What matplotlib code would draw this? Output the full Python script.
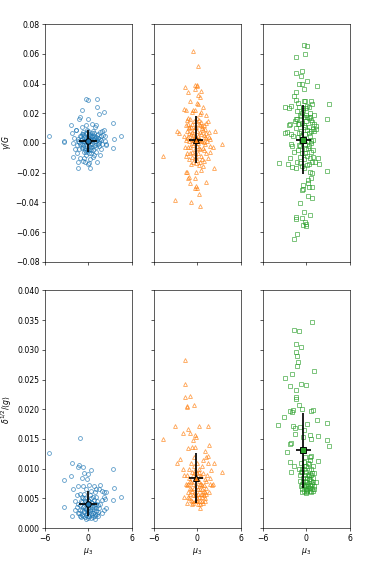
import matplotlib
matplotlib.use('Agg')
import matplotlib.pyplot as plt
import numpy as np

# (mu3, gamma/G) pairs, top row
blue_top = [
    (-5.36, 0.0049), (-3.33, 0.0010), (-3.3, 0.0006), (-2.34, 0.0122), (-2.3, 0.0067),
    (-2.16, 0.0000), (-2.07, -0.0096), (-1.76, 0.0084), (-1.7, 0.0088), (-1.6, -0.0067),
    (-1.4, -0.0129), (-1.4, -0.0171), (-1.3, 0.0160), (-1.2, 0.0173), (-0.9, 0.0224),
    (-0.86, 0.0110), (-0.77, -0.0118), (-0.63, -0.0098), (-0.3, 0.0296), (-0.05, 0.0290),
    (-0.05, 0.0160), (0.05, -0.0133), (-0.09, -0.0144), (0.18, -0.0167), (0.18, -0.0110),
    (0.8, -0.0080), (1.13, 0.0293), (1.17, 0.0244), (1.08, 0.0122), (1.5, 0.0196),
    (2.1, 0.0211), (1.58, -0.0080), (1.13, -0.0129), (1.8, -0.0038), (2.16, 0.0089),
    (2.34, 0.0044), (2.48, -0.0007), (3.42, 0.0133), (3.51, 0.0027), (3.33, -0.0031),
    (4.55, 0.0049), (2.0, 0.0056), (1.6, 0.0072), (1.85, 0.0078), (2.3, 0.0010),
    (2.4, -0.0015), (-1.2, -0.0100), (-0.5, -0.0125), (0.6, -0.0095), (-2.0, 0.0035),
    (-1.9, -0.0040), (0.9, 0.0105), (0.5, 0.0125), (-0.4, 0.0120),
    (-1.4, 0.003), (-1.2, 0.005), (-1.1, -0.001), (-1.0, 0.002), (-0.9, 0.006),
    (-0.8, -0.003), (-0.7, 0.001), (-0.6, 0.004), (-0.5, -0.005), (-0.4, 0.002),
    (-0.3, 0.007), (-0.2, -0.002), (-0.1, 0.004), (0.0, 0.000), (0.1, 0.006),
    (0.2, -0.004), (0.3, 0.002), (0.4, 0.005), (0.5, -0.001), (0.6, 0.003),
    (0.7, 0.007), (0.8, -0.002), (0.9, 0.001), (1.0, 0.004), (1.1, -0.003),
    (1.2, 0.002), (1.3, 0.006), (1.5, 0.000), (1.6, 0.003), (-1.3, -0.004),
    (-0.6, -0.006), (0.3, -0.007), (0.0, 0.008), (-0.2, 0.009), (0.4, -0.005),
    (-0.9, -0.001), (1.4, -0.002), (-0.3, -0.008), (0.6, 0.008), (-1.5, 0.001),
    (0.2, 0.003), (-0.5, 0.001), (0.8, 0.005), (-0.1, -0.005), (1.8, 0.002),
    (0.1, -0.002), (-0.7, 0.006), (1.0, -0.006),
    (-1.25, 0.0005), (-1.05, 0.0045), (-0.95, -0.0035), (-0.85, 0.0025), (-0.75, -0.0015),
    (-0.65, 0.0055), (-0.55, 0.0005), (-0.45, -0.0035), (-0.35, 0.0035), (-0.25, 0.0005),
    (-0.15, -0.0045), (-0.05, 0.0025), (0.05, 0.0045), (0.15, -0.0005), (0.25, 0.0055),
    (0.35, -0.0025), (0.45, 0.0015), (0.55, 0.0045), (0.65, -0.0045), (0.75, 0.0025),
    (0.85, 0.0035), (0.95, -0.0015), (1.05, 0.0015), (1.15, 0.0055), (1.25, -0.0005),
    (1.35, 0.0035), (1.45, 0.0015), (1.7, 0.0050), (1.9, -0.0010), (-1.6, -0.0015),
    (0.05, -0.0065), (-0.35, -0.0060), (0.5, 0.0070), (-0.8, 0.0075),
]

orange_top = [
    (-0.56, 0.0622), (0.14, 0.0515), (-1.76, 0.0375), (-1.3, 0.0342), (-0.3, 0.0390),
    (-0.1, 0.0385), (0.0, 0.0392), (-0.3, 0.0360), (0.5, 0.0353), (0.1, 0.0320),
    (0.3, 0.0310), (-1.0, 0.0285), (0.0, 0.0270), (0.1, 0.0265), (0.83, 0.0245),
    (-1.9, 0.0230), (-1.6, 0.0225), (-0.6, 0.0225), (-0.8, 0.0210), (-0.4, 0.0220),
    (0.5, 0.0210), (0.4, 0.0195), (1.16, 0.0189), (-1.5, 0.0155), (1.4, 0.0145),
    (1.2, 0.0135), (-1.6, 0.0120), (-1.2, 0.0110), (-2.8, 0.0080), (-2.5, 0.0070),
    (2.4, 0.0083), (1.57, 0.0076), (3.38, -0.0007), (1.7, -0.0020), (2.1, -0.0024),
    (1.7, -0.0060), (-4.72, -0.0088), (-1.6, -0.0088), (2.3, -0.0166), (-1.6, -0.0195),
    (-1.45, -0.0198), (-0.14, -0.0193), (0.8, -0.0155), (-1.2, -0.0230), (-1.3, -0.0238),
    (-0.37, -0.0238), (1.25, -0.0260), (-1.0, -0.0270), (-0.2, -0.0290), (-0.1, -0.0300),
    (-0.3, -0.0305), (0.23, -0.0344), (-3.1, -0.0382), (-0.88, -0.0400), (0.32, -0.0422),
    (1.6, 0.0040), (1.4, -0.0100), (-1.8, 0.0050), (-1.7, -0.0030), (0.9, -0.0120),
    (-0.9, -0.0140), (0.5, -0.0180), (1.8, 0.0030), (-1.3, 0.0170),
    (-1.5, 0.008), (-1.3, 0.004), (-1.2, 0.001), (-1.1, 0.010), (-1.0, -0.003),
    (-0.9, 0.006), (-0.8, 0.013), (-0.7, -0.006), (-0.6, 0.002), (-0.5, 0.009),
    (-0.4, -0.010), (-0.3, 0.005), (-0.2, 0.015), (-0.1, -0.002), (0.0, 0.008),
    (0.1, -0.007), (0.2, 0.003), (0.3, 0.012), (0.4, -0.004), (0.5, 0.006),
    (0.6, -0.011), (0.7, 0.001), (0.8, 0.009), (0.9, -0.005), (1.0, 0.004),
    (1.1, -0.001), (1.2, 0.007), (-1.4, -0.007), (-1.0, 0.016), (-0.6, -0.013),
    (0.3, -0.013), (0.0, 0.017), (-0.3, -0.004), (0.5, 0.014), (-0.8, 0.000),
    (0.1, 0.000), (-1.6, 0.002), (1.3, 0.001), (-0.4, 0.011), (0.7, 0.010),
    (-0.2, -0.009), (0.2, -0.015), (-1.1, -0.011), (0.9, 0.012), (-0.5, 0.003),
    (0.4, 0.002),
    (-1.45, 0.0035), (-1.35, -0.0025), (-1.25, 0.0125), (-1.15, 0.0065), (-1.05, -0.0065),
    (-0.95, 0.0025), (-0.85, 0.0105), (-0.75, -0.0095), (-0.65, 0.0055), (-0.55, -0.0015),
    (-0.45, 0.0145), (-0.35, -0.0065), (-0.25, 0.0015), (-0.15, 0.0105), (-0.05, -0.0115),
    (0.05, 0.0045), (0.15, 0.0125), (0.25, -0.0035), (0.35, 0.0075), (0.45, -0.0085),
    (0.55, 0.0015), (0.65, 0.0115), (0.75, -0.0035), (0.85, 0.0055), (0.95, 0.0005),
    (1.05, 0.0095), (1.15, -0.0065), (1.25, 0.0035), (-0.1, 0.0035), (0.2, 0.0155),
    (-0.7, 0.0075), (-0.2, -0.0135),
]

green_top = [
    (-0.28, 0.0660), (0.05, 0.0650), (-0.14, 0.0600), (-1.5, 0.0580), (-1.43, 0.0474),
    (-0.6, 0.0485), (-0.74, 0.0450), (0.05, 0.0418), (-0.97, 0.0400), (-0.64, 0.0398),
    (-0.37, 0.0360), (1.43, 0.0384), (-1.43, 0.0344), (-1.7, 0.0317), (-1.5, 0.0290),
    (-1.2, 0.0270), (-0.37, 0.0285), (-0.2, 0.0280), (0.7, 0.0280), (0.75, 0.0260),
    (3.13, 0.0263), (-2.9, 0.0240), (-2.4, 0.0235), (-2.1, 0.0248), (0.05, 0.0250),
    (0.4, 0.0245), (-0.97, 0.0240), (-0.5, 0.0232), (1.0, 0.0190), (2.8, 0.0164),
    (-1.5, 0.0162), (-1.6, 0.0150), (0.5, 0.0178), (0.6, 0.0155), (-2.2, 0.0125),
    (-2.35, 0.0118), (1.0, 0.0125), (1.3, 0.0115), (1.3, 0.0092), (1.1, 0.0083),
    (-2.9, 0.0065), (-2.7, 0.0074), (-2.1, 0.0058), (-1.9, 0.0050), (-2.1, -0.0007),
    (-2.0, -0.0020), (0.7, -0.0002), (0.35, -0.0018), (-2.2, -0.0103), (-1.75, -0.0058),
    (-3.8, -0.0137), (-2.6, -0.0141), (-2.0, -0.0160), (-1.4, -0.0171), (-1.3, -0.0126),
    (-0.87, -0.0137), (0.55, -0.0103), (0.97, -0.0092), (1.6, -0.0099), (1.15, -0.0128),
    (1.7, -0.0141), (2.9, -0.0187), (0.8, -0.0205), (0.65, -0.0239), (0.2, -0.0250),
    (0.23, -0.0268), (-0.5, -0.0282), (-0.64, -0.0317), (-0.41, -0.0312), (0.41, -0.0295),
    (0.74, -0.0295), (0.23, -0.0360), (0.74, -0.0369), (-0.83, -0.0402), (-0.28, -0.0465),
    (0.55, -0.0485), (-1.43, -0.0495), (-1.48, -0.0512), (-0.64, -0.0503), (-0.2, -0.0533),
    (-0.1, -0.0545), (-0.45, -0.0551), (0.0, -0.0557), (-1.24, -0.0610), (-1.75, -0.0645),
    (-1.4, 0.010), (-1.2, 0.004), (-1.0, 0.013), (-0.9, -0.002), (-0.8, 0.008),
    (-0.7, 0.018), (-0.6, -0.007), (-0.5, 0.003), (-0.4, 0.012), (-0.3, -0.011),
    (-0.2, 0.006), (-0.1, 0.015), (0.0, -0.004), (0.1, 0.009), (0.2, 0.001),
    (0.3, -0.014), (0.4, 0.011), (0.5, 0.005), (0.6, -0.006), (0.8, 0.014),
    (0.9, 0.002), (-1.1, -0.005), (-0.6, 0.020), (0.0, 0.019), (-0.4, -0.017),
    (0.1, -0.009), (-1.3, 0.016), (0.7, 0.008), (-0.2, -0.001), (-0.8, 0.001),
    (0.3, 0.017), (-1.0, 0.007),
    (-1.25, 0.0215), (-1.15, 0.0125), (-1.05, -0.0015), (-0.95, 0.0185), (-0.85, -0.0095),
    (-0.75, 0.0045), (-0.65, 0.0135), (-0.55, -0.0155), (-0.45, 0.0225), (-0.35, 0.0015),
    (-0.25, -0.0065), (-0.15, 0.0105), (-0.05, 0.0235), (0.05, -0.0145), (0.15, 0.0175),
    (0.25, -0.0035), (0.35, 0.0065), (0.45, -0.0195), (0.55, 0.0205), (0.65, 0.0015),
    (0.75, -0.0125), (0.85, 0.0095), (0.95, -0.0045), (-0.3, 0.0175),
]

# (mu3, delta^1/2/<g>) pairs, bottom row
blue_bot = [
    (-5.36, 0.0127), (-1.2, 0.0152), (-2.3, 0.0109), (-1.35, 0.0106), (-1.4, 0.0102),
    (-0.72, 0.0102), (0.3, 0.0097), (-0.1, 0.0091), (-0.6, 0.0092), (-0.9, 0.0085),
    (-2.4, 0.0088), (-3.4, 0.0081), (-0.13, 0.0083), (3.42, 0.0100), (3.47, 0.0067),
    (3.33, 0.0047), (4.5, 0.0053), (-3.33, 0.0035), (-2.2, 0.0021), (-2.07, 0.0066),
    (-1.44, 0.0070), (-0.72, 0.0071), (0.1, 0.0073), (0.77, 0.0070), (1.53, 0.0073),
    (1.5, 0.0065), (1.1, 0.0065), (1.9, 0.0062), (2.1, 0.0061), (2.48, 0.0060),
    (2.34, 0.0049), (1.9, 0.0047), (2.2, 0.0053), (2.4, 0.0033), (2.2, 0.0030),
    (1.9, 0.0025), (-1.6, 0.0055), (-1.8, 0.0045), (-1.9, 0.0030), (-1.5, 0.0025),
    (0.9, 0.0060), (0.4, 0.0062), (-0.3, 0.0065), (-1.1, 0.0058),
    (-1.4, 0.0040), (-1.2, 0.0030), (-1.0, 0.0045), (-0.9, 0.0022), (-0.8, 0.0035),
    (-0.7, 0.0050), (-0.6, 0.0028), (-0.5, 0.0018), (-0.4, 0.0042), (-0.3, 0.0032),
    (-0.2, 0.0025), (-0.1, 0.0048), (0.0, 0.0038), (0.1, 0.0020), (0.2, 0.0030),
    (0.3, 0.0044), (0.4, 0.0026), (0.5, 0.0036), (0.6, 0.0019), (0.7, 0.0048),
    (0.8, 0.0032), (0.9, 0.0024), (1.0, 0.0040), (1.1, 0.0029), (1.2, 0.0045),
    (1.3, 0.0021), (1.4, 0.0034), (-1.1, 0.0020), (-0.3, 0.0015), (0.2, 0.0055),
    (-0.6, 0.0058), (0.6, 0.0053), (1.6, 0.0040), (-1.6, 0.0035), (0.0, 0.0017),
    (-0.9, 0.0052), (0.9, 0.0016), (0.4, 0.0050), (-0.5, 0.0045), (1.1, 0.0052),
    (-1.25, 0.0025), (-1.15, 0.0038), (-1.05, 0.0018), (-0.95, 0.0030), (-0.85, 0.0044),
    (-0.75, 0.0020), (-0.65, 0.0037), (-0.55, 0.0027), (-0.45, 0.0050), (-0.35, 0.0022),
    (-0.25, 0.0040), (-0.15, 0.0030), (-0.05, 0.0021), (0.05, 0.0046), (0.15, 0.0028),
    (0.25, 0.0038), (0.35, 0.0017), (0.45, 0.0032), (0.55, 0.0043), (0.65, 0.0025),
    (0.75, 0.0036), (0.85, 0.0041), (0.95, 0.0020), (1.05, 0.0033), (1.15, 0.0024),
    (1.25, 0.0038), (1.35, 0.0027), (0.0, 0.0028), (-0.5, 0.0034), (0.5, 0.0022),
]

orange_bot = [
    (-1.7, 0.0283), (-1.7, 0.0243), (-1.76, 0.0221), (-1.06, 0.0223), (-0.42, 0.0207),
    (-1.5, 0.0204), (-1.4, 0.0206), (-3.1, 0.0171), (0.23, 0.0171), (1.48, 0.0172),
    (-1.3, 0.0166), (-1.99, 0.0160), (-0.97, 0.0160), (-0.3, 0.0156), (-0.2, 0.0154),
    (-4.72, 0.0150), (-0.6, 0.0149), (1.57, 0.0140), (-0.8, 0.0137), (-0.4, 0.0136),
    (-1.3, 0.0135), (-2.45, 0.0117), (-2.8, 0.0109), (1.48, 0.0121), (2.3, 0.0109),
    (3.38, 0.0095), (1.85, 0.0098), (1.5, 0.0110), (-1.6, 0.0075), (-1.4, 0.0073),
    (1.7, 0.0085), (1.8, 0.0074), (2.2, 0.0074), (2.0, 0.0072), (-1.85, 0.0052),
    (1.6, 0.0060), (0.32, 0.0034), (-0.8, 0.0040), (-2.0, 0.0100), (-1.9, 0.0090),
    (1.2, 0.0120), (0.8, 0.0115), (-0.5, 0.0120), (1.0, 0.0130),
    (-1.5, 0.0090), (-1.3, 0.0060), (-1.2, 0.0100), (-1.1, 0.0050), (-1.0, 0.0080),
    (-0.9, 0.0065), (-0.8, 0.0095), (-0.7, 0.0045), (-0.6, 0.0075), (-0.5, 0.0105),
    (-0.4, 0.0055), (-0.3, 0.0085), (-0.2, 0.0048), (-0.1, 0.0070), (0.0, 0.0092),
    (0.1, 0.0058), (0.2, 0.0080), (0.3, 0.0045), (0.4, 0.0066), (0.5, 0.0088),
    (0.6, 0.0052), (0.7, 0.0072), (0.8, 0.0042), (0.9, 0.0062), (1.0, 0.0082),
    (1.1, 0.0050), (1.2, 0.0068), (1.3, 0.0090), (-1.4, 0.0042), (-0.9, 0.0110),
    (-0.3, 0.0060), (0.2, 0.0100), (0.6, 0.0105), (-0.6, 0.0055), (0.0, 0.0050),
    (0.4, 0.0040), (-1.0, 0.0068), (1.0, 0.0060), (-0.1, 0.0110), (0.3, 0.0075),
    (-0.4, 0.0092), (0.7, 0.0057),
    (-1.35, 0.0075), (-1.25, 0.0052), (-1.15, 0.0085), (-1.05, 0.0058), (-0.95, 0.0048),
    (-0.85, 0.0078), (-0.75, 0.0062), (-0.65, 0.0090), (-0.55, 0.0042), (-0.45, 0.0068),
    (-0.35, 0.0098), (-0.25, 0.0058), (-0.15, 0.0082), (-0.05, 0.0045), (0.05, 0.0065),
    (0.15, 0.0095), (0.25, 0.0052), (0.35, 0.0088), (0.45, 0.0058), (0.55, 0.0075),
    (0.65, 0.0046), (0.75, 0.0092), (0.85, 0.0055), (0.95, 0.0072), (1.05, 0.0045),
    (1.15, 0.0080), (1.25, 0.0058), (0.1, 0.0040), (-0.4, 0.0045), (0.6, 0.0065),
]

green_bot = [
    (0.78, 0.0347), (-1.75, 0.0334), (-1.06, 0.0332), (-1.43, 0.0309), (-0.7, 0.0305),
    (-1.4, 0.0297), (-1.35, 0.0290), (-1.2, 0.0280), (-1.3, 0.0272), (1.0, 0.0265),
    (-2.0, 0.0260), (-3.0, 0.0252), (-0.74, 0.0242), (-2.25, 0.0239), (-0.05, 0.0240),
    (-1.43, 0.0233), (-1.5, 0.0221), (-1.4, 0.0217), (-0.97, 0.0207), (-0.6, 0.0200),
    (0.7, 0.0197), (0.85, 0.0198), (-2.3, 0.0197), (-2.0, 0.0196), (-1.8, 0.0199),
    (1.43, 0.0182), (-3.1, 0.0187), (-3.9, 0.0174), (2.9, 0.0177), (-1.9, 0.0172),
    (-1.6, 0.0168), (-0.95, 0.0170), (0.05, 0.0175), (-0.3, 0.0165), (-1.6, 0.0158),
    (-0.5, 0.0153), (0.5, 0.0157), (0.65, 0.0150), (1.65, 0.0155), (2.8, 0.0148),
    (3.1, 0.0138), (-2.1, 0.0143), (-2.3, 0.0142), (-2.65, 0.0128), (0.5, 0.0120),
    (0.7, 0.0121), (1.56, 0.0113), (-2.2, 0.0112), (-2.15, 0.0095), (-1.65, 0.0105),
    (-1.0, 0.0100), (1.3, 0.0078), (-0.6, 0.0075), (-0.6, 0.0060), (-0.1, 0.0059),
    (0.7, 0.0060), (-0.05, 0.0061), (0.6, 0.0090), (0.9, 0.0085),
    (-0.9, 0.0090), (-0.7, 0.0110), (-0.5, 0.0085), (-0.4, 0.0070), (-0.3, 0.0100),
    (-0.2, 0.0080), (-0.1, 0.0065), (0.0, 0.0095), (0.1, 0.0075), (0.2, 0.0110),
    (0.3, 0.0068), (0.4, 0.0088), (0.5, 0.0072), (0.6, 0.0100), (0.7, 0.0080),
    (0.8, 0.0066), (0.9, 0.0105), (1.0, 0.0070), (1.1, 0.0092), (-0.8, 0.0070),
    (-0.2, 0.0120), (0.3, 0.0082), (-0.6, 0.0095), (0.1, 0.0062), (0.5, 0.0115),
    (-0.1, 0.0078), (0.2, 0.0090), (0.8, 0.0075), (-0.4, 0.0105), (0.0, 0.0070),
    (-0.85, 0.0080), (-0.75, 0.0095), (-0.65, 0.0065), (-0.55, 0.0100), (-0.45, 0.0078),
    (-0.35, 0.0062), (-0.25, 0.0090), (-0.15, 0.0072), (-0.05, 0.0105), (0.05, 0.0064),
    (0.15, 0.0085), (0.25, 0.0070), (0.35, 0.0098), (0.45, 0.0062), (0.55, 0.0082),
    (0.65, 0.0070), (0.75, 0.0092), (0.85, 0.0063), (0.95, 0.0078), (1.05, 0.0066),
    (0.4, 0.0108), (-0.3, 0.0112),
]

# mean +- std per column (blue, orange, green)
mean_mu3 = [-0.05, -0.18, -0.41]
std_mu3 = [1.2, 1.0, 1.0]
mean_gamma = [0.0013, 0.0022, 0.0022]
std_gamma = [0.0072, 0.0158, 0.0234]
mean_delta = [0.0041, 0.0085, 0.0131]
std_delta = [0.0021, 0.0042, 0.0063]

colors = ['tab:blue', 'tab:orange', 'tab:green']
markers = ['o', '^', 's']
top_sets = [blue_top, orange_top, green_top]
bot_sets = [blue_bot, orange_bot, green_bot]

fig, axes = plt.subplots(2, 3, figsize=(6.96, 10.25), dpi=56,
                         sharex=True, sharey='row')
fig.subplots_adjust(left=0.115, right=0.898, top=0.958, bottom=0.080,
                    wspace=0.25, hspace=0.12)

for i in range(3):
    for row, (data, mean_y, std_y) in enumerate([
            (top_sets[i], mean_gamma, std_gamma),
            (bot_sets[i], mean_delta, std_delta)]):
        ax = axes[row, i]
        pts = np.array(data)
        ax.plot(pts[:, 0], pts[:, 1], markers[i], ls='none', ms=5,
                mfc='none', mec=colors[i], mew=1.1, alpha=0.7)
        ax.errorbar(mean_mu3[i], mean_y[i], xerr=std_mu3[i], yerr=std_y[i],
                    fmt=markers[i], ms=7, mfc=colors[i], mec='k', mew=1.2,
                    ecolor='k', elinewidth=2.2, capsize=0, zorder=5)

axes[0, 0].set_ylim(-0.08, 0.08)
axes[0, 0].set_yticks(np.arange(-0.08, 0.081, 0.02))
axes[1, 0].set_ylim(0, 0.04)
axes[1, 0].set_yticks(np.arange(0, 0.0401, 0.005))
axes[0, 0].set_xlim(-6, 6)
axes[0, 0].set_xticks([-6, 0, 6])

axes[0, 0].set_ylabel(r'$\gamma/G$')
axes[1, 0].set_ylabel(r'$\delta^{1/2}/\langle g\rangle$')
for ax in axes[1]:
    ax.set_xlabel(r'$\mu_3$')

fig.savefig('out.png', dpi=56)
